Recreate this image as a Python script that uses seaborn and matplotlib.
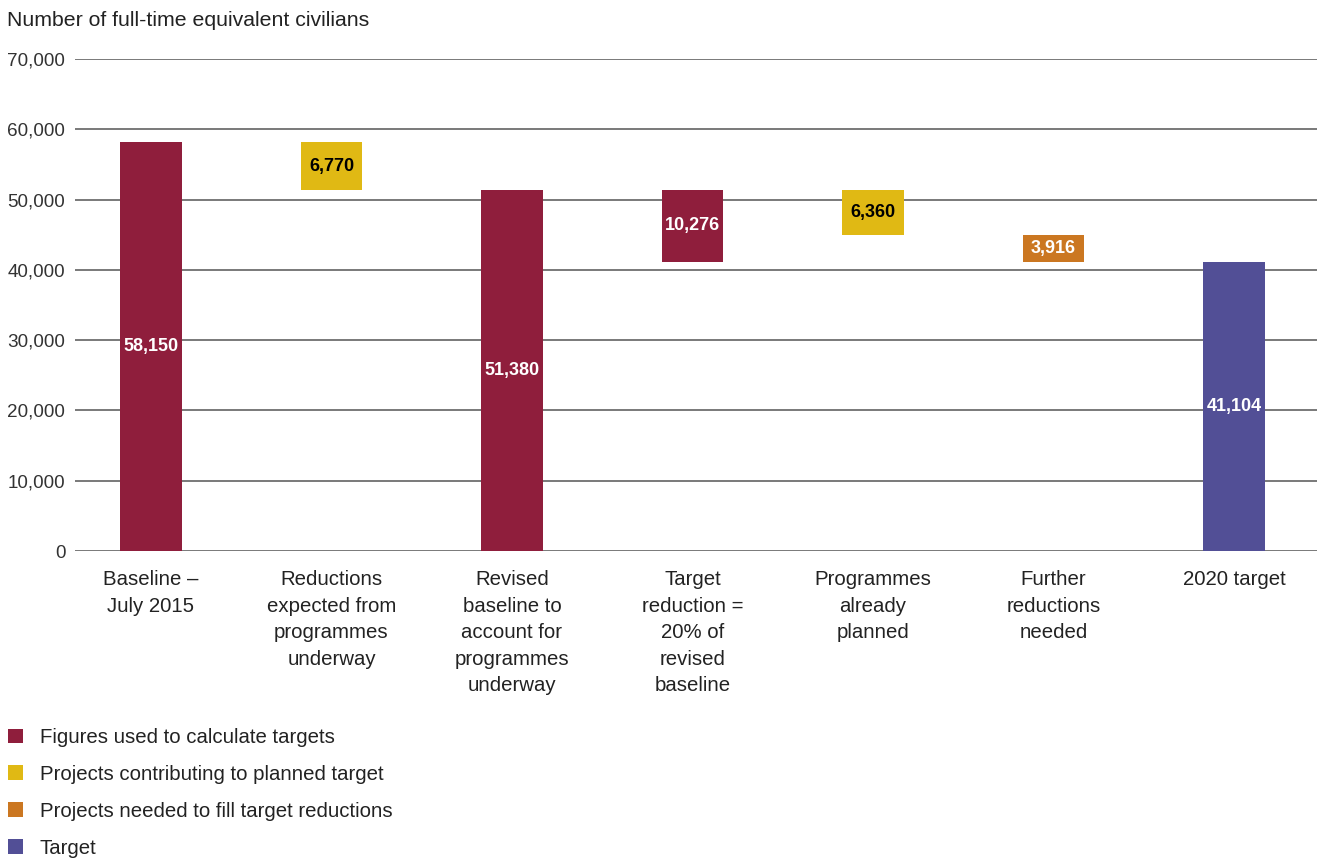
import matplotlib
matplotlib.use("Agg")
import matplotlib.pyplot as plt
from matplotlib.patches import Patch
from matplotlib.ticker import FuncFormatter
import seaborn as sns
import pandas as pd

# Waterfall steps: category label, value shown, bar base, colour group
categories = [
    "Baseline –\nJuly 2015",
    "Reductions\nexpected from\nprogrammes\nunderway",
    "Revised\nbaseline to\naccount for\nprogrammes\nunderway",
    "Target\nreduction =\n20% of\nrevised\nbaseline",
    "Programmes\nalready\nplanned",
    "Further\nreductions\nneeded",
    "2020 target",
]
values = [58150, 6770, 51380, 10276, 6360, 3916, 41104]
bases = [0, 51380, 0, 41104, 45020, 41104, 0]
groups = ["calc", "contrib", "calc", "calc", "contrib", "needed", "target"]

group_names = ["calc", "contrib", "needed", "target"]
group_labels = [
    "Figures used to calculate targets",
    "Projects contributing to planned target",
    "Projects needed to fill target reductions",
    "Target",
]
group_colors = ["#8F1E3C", "#E0B914", "#CB7721", "#524F96"]
label_colors = {"calc": "white", "contrib": "black", "needed": "white", "target": "white"}

df = pd.DataFrame({"category": categories, "value": values,
                   "base": bases, "group": groups})

sns.set_theme(style="white")
plt.rcParams["font.family"] = ["Liberation Sans", "DejaVu Sans"]

fig = plt.figure(figsize=(13.22, 8.59), dpi=100)
ax = fig.add_axes([75 / 1322, 1 - 551 / 859, (1317 - 75) / 1322, (551 - 59) / 859])

for name, color in zip(group_names, group_colors):
    sub = df[df["group"] == name]
    sns.barplot(data=sub, x="category", y="value", order=categories,
                bottom=sub["base"].to_numpy(), color=color, width=0.34,
                errorbar=None, saturation=1, linewidth=0, ax=ax, zorder=3)

# value labels centred in each bar
for i, row in df.iterrows():
    ax.text(i, row["base"] + row["value"] / 2, f"{row['value']:,}",
            ha="center", va="center", fontsize=13, fontweight="bold",
            color=label_colors[row["group"]], zorder=4)

ax.set_ylim(0, 70000)
ax.set_xlim(-0.421, 6.46)
ax.set_yticks(range(0, 70001, 10000))
ax.yaxis.set_major_formatter(FuncFormatter(lambda v, p: f"{int(v):,}"))
ax.yaxis.grid(True, color="#555555", linewidth=1.1)
ax.set_axisbelow(True)
for s in ax.spines.values():
    s.set_visible(False)
ax.set_xlabel("")
ax.set_ylabel("")
ax.tick_params(axis="y", length=0, pad=7, labelsize=13.6, labelcolor="#333333")
ax.tick_params(axis="x", length=0, pad=14, labelsize=14.7, labelcolor="#222222")
for t in ax.get_xticklabels():
    t.set_linespacing(1.5)
    t.set_ha("center")

fig.text(7 / 1322, 1 - 20 / 859, "Number of full-time equivalent civilians",
         fontsize=15.3, color="#222222", ha="left", va="center")

handles = [Patch(facecolor=c, edgecolor="none") for c in group_colors]
fig.legend(handles, group_labels, loc="upper left",
           bbox_to_anchor=(8 / 1322, 1 - 728 / 859), frameon=False,
           fontsize=14.7, handlelength=0.73, handleheight=0.73,
           handletextpad=0.83, labelspacing=0.88, borderaxespad=0,
           borderpad=0, labelcolor="#222222")

fig.savefig("out.png", dpi=100)
